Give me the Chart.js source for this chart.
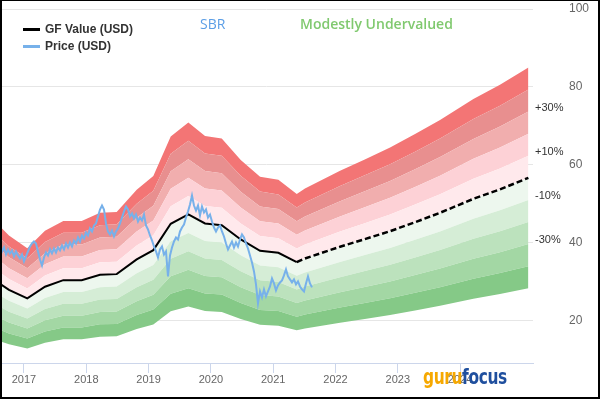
<!DOCTYPE html>
<html><head><meta charset="utf-8">
<script src="https://cdn.jsdelivr.net/npm/chart.js@4"></script>
<style>
html,body{margin:0;padding:0;background:#fff;}
#wrap{position:relative;width:600px;height:399px;overflow:hidden;}
#c{position:absolute;left:0;top:0;}
#frame{position:absolute;left:0;top:0;width:600px;height:399px;box-sizing:border-box;border:2px solid #000;border-top-width:1px;pointer-events:none;}
.t{position:absolute;white-space:nowrap;}
.leg{font-family:"Liberation Sans",Arial,sans-serif;font-weight:bold;font-size:12px;color:#333;line-height:14px;}
.legline{position:absolute;width:17px;height:3px;}
</style></head><body>
<div id="wrap">
<canvas id="c" width="600" height="399"></canvas>
<div class="legline" style="left:23px;top:28px;background:#000;"></div>
<div class="t leg" style="left:45px;top:22px;">GF Value (USD)</div>
<div class="legline" style="left:23px;top:45px;background:#77b1ea;"></div>
<div class="t leg" style="left:45px;top:39px;">Price (USD)</div>
<div class="t" style="left:200px;top:15px;font-family:'Open Sans',sans-serif;font-size:14px;line-height:18px;color:#5b9ee6;">SBR</div>
<div class="t" style="left:300px;top:15px;font-family:'Open Sans',sans-serif;font-size:14px;font-weight:600;line-height:18px;color:#80c96f;">Modestly Undervalued</div>
<div class="t" style="left:423px;top:365px;font-family:'Liberation Sans Narrow','DejaVu Sans Condensed',sans-serif;font-weight:bold;font-size:22px;line-height:24px;letter-spacing:-0.5px;transform:scaleX(0.78);transform-origin:0 0;"><span style="color:#f6a800;">guru</span><span style="color:#1f4f9e;">focus</span></div>
<div id="frame"></div>
</div>
<script>
// GF Value history (year, USD)
const gfYears = [2016.615, 2016.759, 2017.053, 2017.337, 2017.631, 2017.926, 2018.220, 2018.488, 2018.809, 2019.076, 2019.355, 2019.638, 2019.906, 2020.174, 2020.479, 2020.789, 2021.083, 2021.378];
const gfValues = [29.44, 27.90, 25.72, 28.72, 30.41, 30.41, 31.79, 31.95, 35.72, 38.10, 44.87, 47.26, 44.95, 44.51, 40.85, 37.95, 37.44, 35.03];
// GF Value projection (dashed)
const projYears = [2021.378, 2021.51, 2022.073, 2022.47, 2022.876, 2023.277, 2023.678, 2024.213, 2024.64, 2025.096];
const projValues = [35.03, 35.97, 38.97, 40.93, 42.97, 45.28, 47.69, 51.28, 53.70, 56.67];
// Price samples, regularly spaced in time
const priceStart = 2016.615;
const priceStep = 0.0321;
const priceValues = [39.56,37.77,38.79,37.00,38.28,37.26,38.03,36.49,37.77,36.74,35.97,37.00,35.21,36.49,37.77,39.05,39.82,40.33,39.82,37.77,
35.72,34.18,36.23,37.51,36.74,38.28,37.26,38.54,37.51,38.79,38.03,39.31,38.28,39.82,38.79,40.08,39.05,40.59,39.82,41.36,
40.33,41.87,41.10,42.64,41.87,43.67,42.90,44.44,44.95,46.74,48.54,49.56,48.54,44.95,42.90,42.13,43.15,41.62,42.90,43.67,
44.95,46.49,48.03,49.31,48.54,46.74,47.51,46.23,47.26,45.46,46.49,45.72,47.26,44.44,43.41,41.87,40.59,39.05,37.77,36.23,
38.28,39.05,37.00,37.77,31.36,36.74,38.79,40.33,41.36,40.85,42.90,43.92,44.69,46.49,48.03,49.82,52.13,49.56,48.28,49.56,
47.00,49.31,47.77,48.54,46.49,47.26,45.46,43.92,42.90,43.92,44.44,42.90,41.62,39.82,38.28,39.31,40.33,38.79,40.08,39.05,
40.85,42.13,41.36,39.82,38.54,36.74,34.95,32.64,29.31,24.44,27.51,25.97,28.03,26.23,27.51,28.79,30.85,29.56,27.77,29.05,
29.82,30.33,31.62,33.15,31.36,30.59,29.82,30.59,29.31,30.08,28.79,28.03,27.51,29.56,31.36,29.56,28.54];
// Valuation bands (multiples of GF Value) and their fills (band above each level)
const bandLevels = [0.5, 0.6, 0.7, 0.8, 0.9, 1.0, 1.1, 1.2, 1.3, 1.4, 1.5];
const bandColors = ['#85c987', '#a3d7a4', '#bce2bd', '#d5edd6', '#edf7ee', '#ffe9ec', '#fdd1d6', '#f1aeae', '#e88f8f', '#f37575'];
const yearTicks = [2017, 2018, 2019, 2020, 2021, 2022, 2023, 2024];
const valueTicks = [20, 40, 60, 80, 100];
const pctLabels = ['+30%', '+10%', '-10%', '-30%'];
const pctLevels = [1.3, 1.1, 0.9, 0.7];

const gfHist = gfYears.map((x, i) => ({x, y: gfValues[i]}));
const gfProj = projYears.map((x, i) => ({x, y: projValues[i]}));
const gfAll = gfHist.concat(gfProj.slice(1));
const price = priceValues.map((y, i) => ({x: priceStart + i * priceStep, y}));

const datasets = [
  {label: 'Price (USD)', data: price, borderColor: '#77b1ea', borderWidth: 2, pointRadius: 0, fill: false},
  {label: 'GF Value (USD)', data: gfHist, borderColor: '#000', borderWidth: 2, pointRadius: 0, fill: false},
  {label: 'GF Value projection', data: gfProj, borderColor: '#000', borderWidth: 2.5, borderDash: [6, 3], pointRadius: 0, fill: false}
];
bandLevels.forEach((lv, i) => {
  datasets.push({
    label: 'band ' + lv,
    data: gfAll.map(p => ({x: p.x, y: p.y * lv})),
    borderWidth: 0, borderColor: 'rgba(0,0,0,0)', pointRadius: 0,
    backgroundColor: i === 0 ? 'rgba(0,0,0,0)' : bandColors[i - 1],
    fill: i === 0 ? false : '-1'
  });
});

const pctPlugin = {
  id: 'pct',
  afterDraw(chart) {
    const ctx = chart.ctx, ys = chart.scales.y;
    const last = gfAll[gfAll.length - 1].y;
    ctx.save();
    ctx.font = '11px "Liberation Sans", Arial, sans-serif';
    ctx.fillStyle = '#333';
    ctx.textBaseline = 'middle';
    ctx.textAlign = 'left';
    pctLabels.forEach((t, i) => {
      ctx.fillText(t, chart.chartArea.right + 2, ys.getPixelForValue(last * pctLevels[i]) - 4);
    });
    ctx.restore();
  }
};

new Chart(document.getElementById('c'), {
  type: 'line',
  data: {datasets},
  options: {
    responsive: false, animation: false,
    layout: {padding: {top: 9, left: 0, right: 0, bottom: 0}},
    plugins: {legend: {display: false}, tooltip: {enabled: false}, filler: {drawTime: 'beforeDatasetsDraw'}},
    elements: {line: {tension: 0}},
    scales: {
      x: {
        type: 'linear', min: 2016.615, max: 2025.17,
        afterBuildTicks: s => { s.ticks = yearTicks.map(v => ({value: v})); },
        afterFit: s => { s.height = 36; },
        grid: {drawOnChartArea: false, tickLength: 10, color: '#ccd6eb'},
        border: {display: true, color: '#ccd6eb'},
        ticks: {padding: 0, color: '#666', font: {size: 11, family: '"Liberation Sans", Arial, sans-serif'}, callback: v => String(v), maxRotation: 0}
      },
      y: {
        type: 'linear', position: 'right', min: 9.14, max: 100,
        afterBuildTicks: s => { s.ticks = valueTicks.map(v => ({value: v})); },
        afterFit: s => { s.width = 67; s.paddingTop = 0; s.paddingBottom = 0; },
        grid: {color: '#e6e6e6', drawTicks: true, tickLength: 36, tickColor: 'rgba(0,0,0,0)'},
        border: {display: false},
        ticks: {padding: 0, color: '#666', font: {size: 12, family: '"Liberation Sans", Arial, sans-serif'}}
      }
    }
  },
  plugins: [pctPlugin]
});
</script>
</body></html>
